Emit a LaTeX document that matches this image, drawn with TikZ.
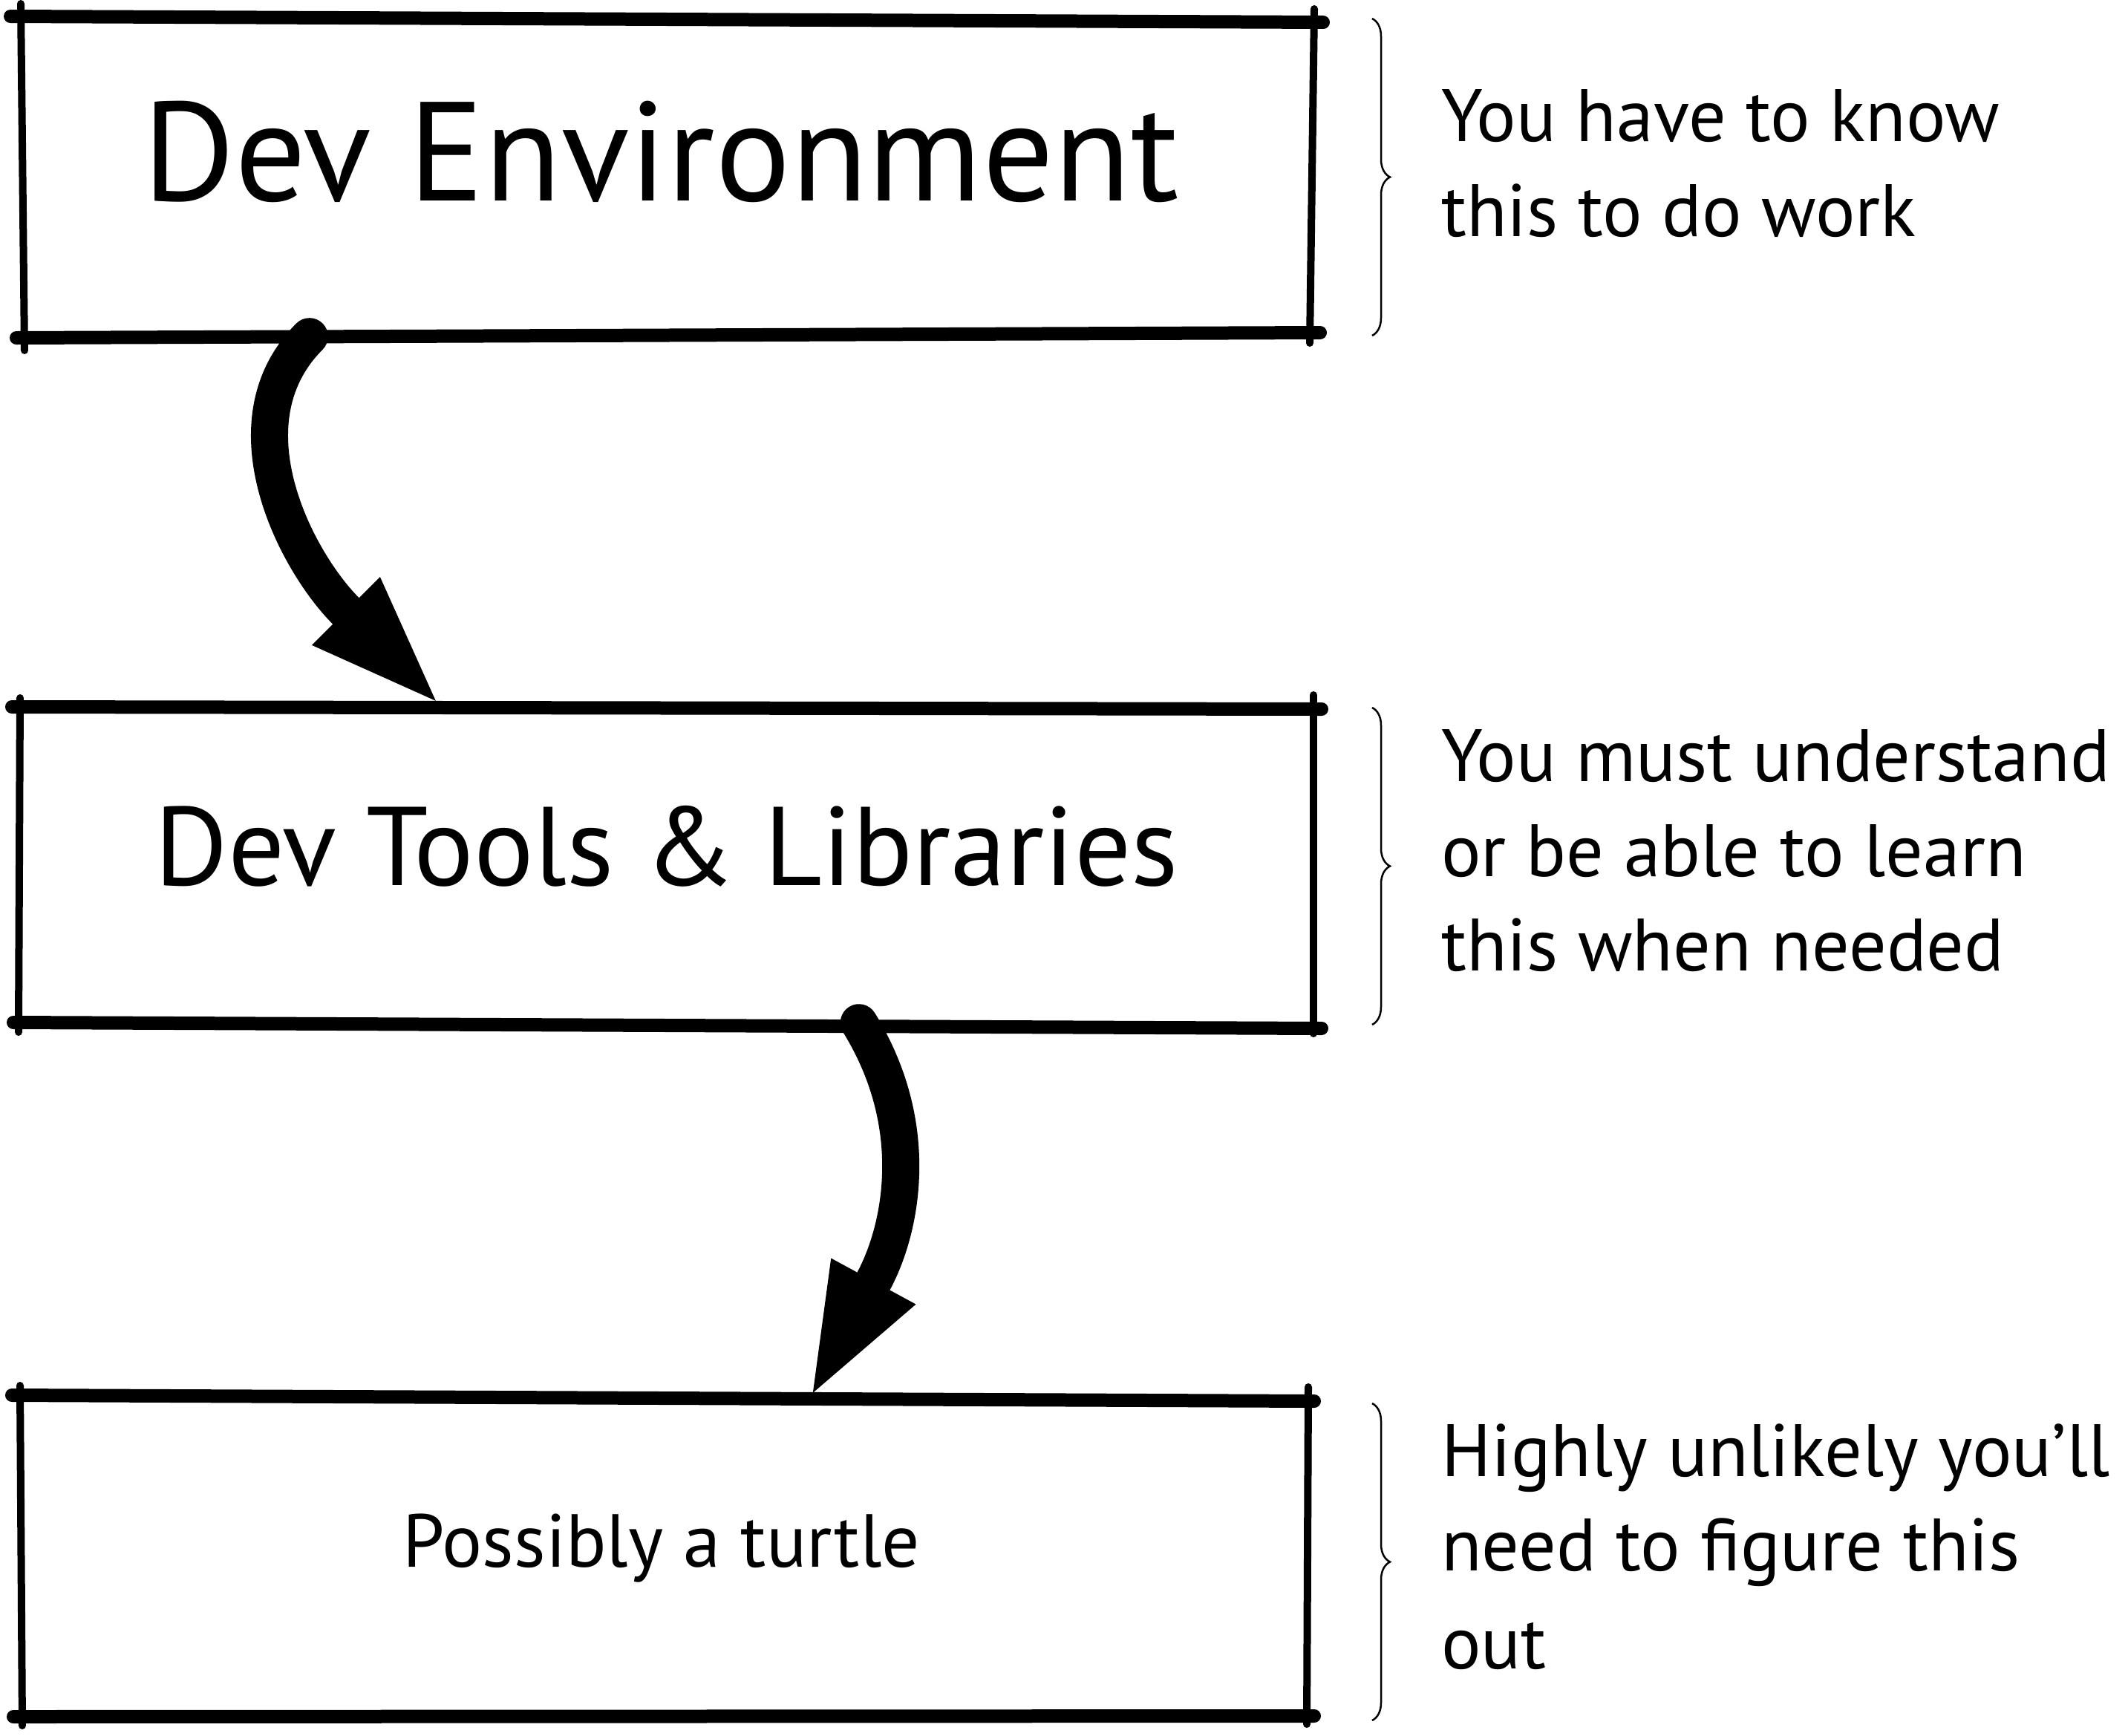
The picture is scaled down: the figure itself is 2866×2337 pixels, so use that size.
\documentclass[tikz,border=0pt]{standalone}
\usepackage{fontspec}
\usepackage{graphicx}
\setmainfont{PT Sans}
\usetikzlibrary{arrows.meta,calc,decorations.pathreplacing}
\begin{document}
\begin{tikzpicture}[x=1pt,y=-1pt,
  frameh/.style={line width=18pt,line cap=round},
  framev/.style={line width=10pt,line cap=round},
  boxnode/.style={draw=none,rectangle,inner sep=0pt},
  flow/.style={line width=50pt,line cap=round,-{Triangle[length=171pt 0 0,width=130pt 0 0,line width=0pt 0 0]}},
  note/.style={anchor=base west,inner sep=0pt,font={\fontsize{100}{120}\selectfont}},
  title/.style={anchor=base,inner sep=0pt},
  bracestyle/.style={line width=2.5pt,decorate,decoration={brace,amplitude=24pt}},
]
\fill[white] (0,0) rectangle (2866,2337);
\useasboundingbox (0,0) rectangle (2866,2337);

% invisible box nodes
\node[boxnode,minimum width=1740pt,minimum height=428pt] (b1) at (898,239) {};
\node[boxnode,minimum width=1743pt,minimum height=430pt] (b2) at (897.5,1168) {};
\node[boxnode,minimum width=1735pt,minimum height=428pt] (b3) at (894.5,2096) {};

% sketchy frames
\draw[frameh] (14,22) -- (1782,30);
\draw[frameh] (22,455) -- (1778,448);
\draw[framev] (28,5) -- (33,472);
\draw[framev] (1770,12) -- (1764,462);

\draw[frameh] (16,952) -- (1780,955);
\draw[frameh] (18,1377) -- (1780,1385);
\draw[framev] (27,940) -- (25,1390);
\draw[framev] (1769,936) -- (1769,1392);

\draw[frameh] (16,1879) -- (1770,1887);
\draw[frameh] (18,2312) -- (1770,2311);
\draw[framev] (27,1866) -- (30,2324);
\draw[framev] (1762,1868) -- (1760,2322);

% titles
\node[title] (t1) at (890,270) {\resizebox{1395pt}{!}{Dev Environment}};
\node[title] (t2) at (898,1192) {\resizebox{1377pt}{!}{Dev Tools \& Libraries}};
\node[title] (t3) at (891,2110) {\resizebox{696pt}{!}{Possibly a turtle}};

% arrows
\draw[flow] ($(b1.south west)+(389,0)$) .. controls (300,570) and (400,757) .. ($(b2.north west)+(561,-9)$);
\draw[flow] ($(b2.south west)+(1131,-6)$) .. controls (1245,1520) and (1212,1660) .. ($(b3.north west)+(1068,-6)$);

% braces
\draw[bracestyle] (1848,25) -- (1848,452);
\draw[bracestyle] (1848,953) -- (1848,1380);
\draw[bracestyle] (1848,1890) -- (1848,2317);

% notes
\node[note] (n11) at (1941,190) {You have to know};
\node[note] (n12) at (1941,318) {this to do work};
\node[note] (n21) at (1941,1052) {You must understand};
\node[note] (n22) at (1941,1180) {or be able to learn};
\node[note] (n23) at (1941,1307) {this when needed};
\node[note] (n31) at (1941,1988) {Highly unlikely you’ll};
\node[note] (n32) at (1941,2115) {need to figure this};
\node[note] (n33) at (1941,2247) {out};
\end{tikzpicture}
\end{document}
